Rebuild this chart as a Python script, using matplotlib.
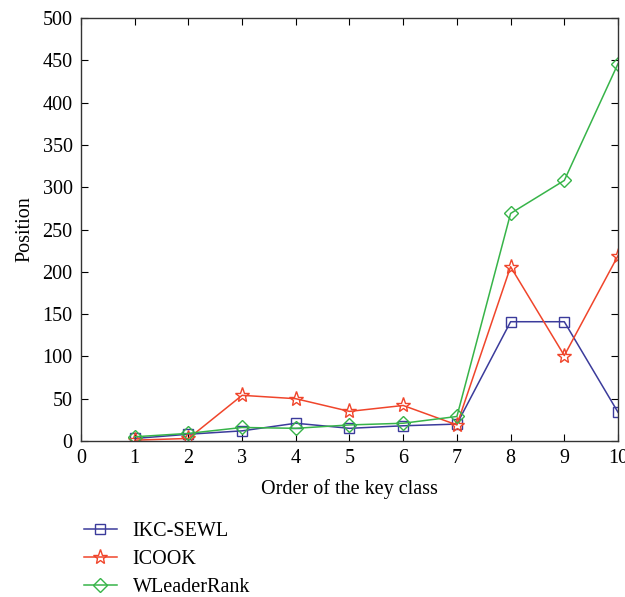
import matplotlib
matplotlib.use('Agg')
import matplotlib.pyplot as plt

# --- data ---
order = [1, 2, 3, 4, 5, 6, 7, 8, 9, 10]
ikc_sewl = [3, 8, 12, 21, 15, 18, 20, 141, 141, 34]
icook = [1, 3, 54, 50, 35, 42, 19, 206, 101, 219]
wleaderrank = [5, 9, 16, 15, 19, 21, 29, 269, 308, 446]

plt.rcParams['font.family'] = ['Liberation Serif', 'DejaVu Serif']
plt.rcParams['font.size'] = 14.5

fig = plt.figure(figsize=(6.25, 5.97), dpi=100)
ax = fig.add_axes([0.1296, 0.2613, 0.8592, 0.7085])

ax.plot(order, ikc_sewl, color='#3b3b9b', marker='s', markersize=7,
        markerfacecolor='none', linewidth=1.1, label='IKC-SEWL')
ax.plot(order, icook, color='#f0452b', marker='*', markersize=11,
        markerfacecolor='none', linewidth=1.1, label='ICOOK')
ax.plot(order, wleaderrank, color='#37b449', marker='D', markersize=7,
        markerfacecolor='none', linewidth=1.1, label='WLeaderRank')

ax.set_xlim(0, 10)
ax.set_ylim(0, 500)
ax.set_xticks(range(0, 11))
ax.set_yticks(range(0, 501, 50))
ax.tick_params(direction='in', top=True, right=True, length=5, width=0.8)
ax.tick_params(axis='x', pad=6)
ax.tick_params(axis='y', pad=6)
for s in ax.spines.values():
    s.set_linewidth(1.0)
    s.set_color('#333333')
ax.set_xlabel('Order of the key class', labelpad=8)
ax.set_ylabel('Position', labelpad=6)

fig.legend(loc='upper left', bbox_to_anchor=(0.122, 0.14), frameon=False,
           handlelength=1.6, handletextpad=0.8, labelspacing=0.45,
           borderaxespad=0)

fig.savefig('out.png', dpi=100)
